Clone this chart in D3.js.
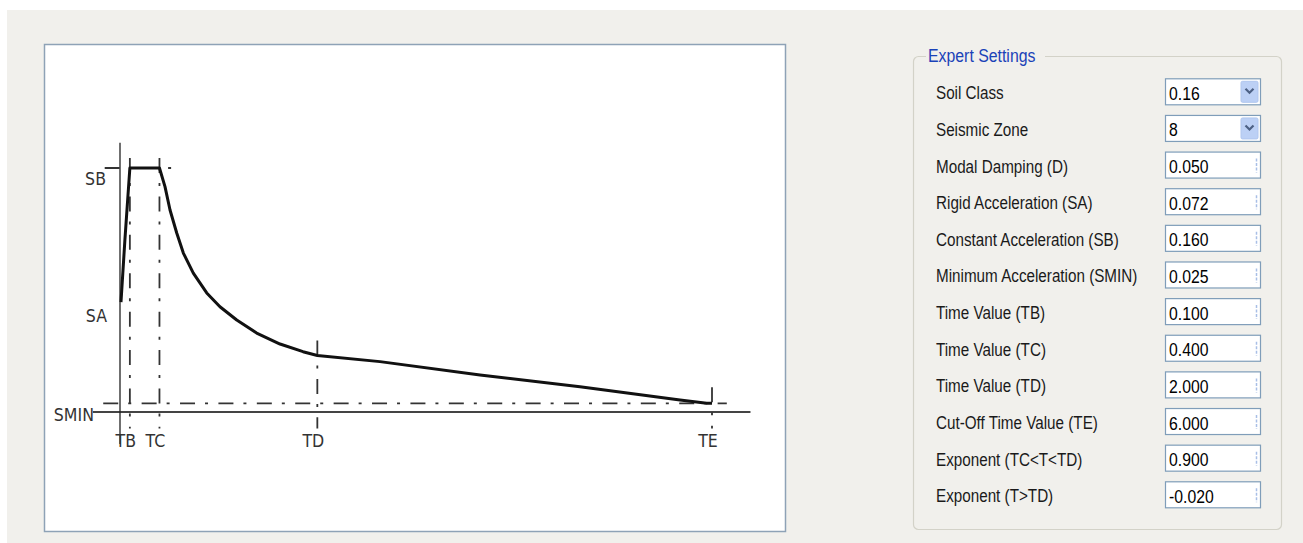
<!doctype html>
<meta charset='utf-8'>
<title>Response spectrum</title>
<style type="text/css">
	html, body {
		margin:0;
		padding:0;
		background:#fff;
		overflow:hidden;
	}
	svg text {
		font-family:'Liberation Sans', Arial, sans-serif;
	}
	.schema text {
		font-family:'DejaVu Sans', sans-serif;
		font-size:16px;
		fill:#333;
	}
</style>

<div id='container'></div>

<script src="https://cdnjs.cloudflare.com/ajax/libs/d3/7.8.5/d3.min.js" charset="utf-8"></script>
<script>

	// spectrum parameters
	var SA = 0.072, SB = 0.160, SMIN = 0.025
	var TB = 0.1, TC = 0.4, TD = 2.0, TE = 6.0

	var periodTicks = [TB, TC, TD, TE]
	var periodLabels = ['TB', 'TC', 'TD', 'TE']

	// curve (period, acceleration)
	var curveT = [0.01, 0.05, 0.1, 0.4, 0.456, 0.507, 0.575, 0.642, 0.743, 0.879, 1.013,
		1.183, 1.385, 1.622, 1.855, 2.0, 2.635, 3.649, 4.662, 5.676, 5.946, 6.0]
	var curveS = [0.083, 0.119, 0.160, 0.160, 0.1493, 0.1359, 0.1227, 0.1112, 0.0997, 0.0883, 0.0804,
		0.0728, 0.0653, 0.0590, 0.0546, 0.0524, 0.0489, 0.0412, 0.0345, 0.0269, 0.0250, 0.0250]

	// expert settings panel
	var settingLabels = ['Soil Class', 'Seismic Zone', 'Modal Damping (D)', 'Rigid Acceleration (SA)',
		'Constant Acceleration (SB)', 'Minimum Acceleration (SMIN)', 'Time Value (TB)', 'Time Value (TC)',
		'Time Value (TD)', 'Cut-Off Time Value (TE)', 'Exponent (TC<T<TD)', 'Exponent (T>TD)']
	var settingValues = ['0.16', '8', '0.050', '0.072', '0.160', '0.025', '0.100', '0.400',
		'2.000', '6.000', '0.900', '-0.020']
	var settingKinds = ['combo', 'combo', 'spin', 'spin', 'spin', 'spin', 'spin', 'spin',
		'spin', 'spin', 'spin', 'spin']

	// -------------------------------------------------------

	var svg = d3.select('#container').append('svg')
		.attr('width', 1303)
		.attr('height', 543)

	// window background
	svg.append('rect')
		.attr('x', 7).attr('y', 10)
		.attr('width', 1296).attr('height', 533)
		.style('fill', '#f1f0ec')

	// chart frame
	svg.append('rect')
		.attr('x', 44.5).attr('y', 44.5)
		.attr('width', 741).attr('height', 487)
		.style('fill', '#fff')
		.style('stroke', '#8ea2b6')
		.style('stroke-width', 1.5)

	var x = d3.scaleLinear().domain([0, 6]).range([120, 712])
	var y = d3.scaleLinear().domain([0.02, 0.16]).range([412, 168])

	var schema = svg.append('g').attr('class', 'schema')
	var dashDot = '15,10,3,10.4'

	function guide(x1, y1, x2, y2) {
		schema.append('line')
			.attr('x1', x1).attr('y1', y1)
			.attr('x2', x2).attr('y2', y2)
			.style('stroke', '#333')
			.style('stroke-width', 1.8)
			.style('stroke-dasharray', dashDot)
	}

	// squeeze text horizontally, like the narrow dialog font
	function narrow(sel, k) {
		sel.each(function() {
			var w = this.getComputedTextLength()
			d3.select(this)
				.attr('textLength', w * k)
				.attr('lengthAdjust', 'spacingAndGlyphs')
		})
	}

	// axes
	schema.append('line')
		.attr('x1', x(-0.275)).attr('x2', x(6.39))
		.attr('y1', y(0.02)).attr('y2', y(0.02))
		.style('stroke', '#444').style('stroke-width', 2)
	schema.append('line')
		.attr('x1', x(0)).attr('x2', x(0))
		.attr('y1', y(0.1745)).attr('y2', y(0.0016))
		.style('stroke', '#222').style('stroke-width', 1.3)

	// level guides
	guide(x(-0.155), y(SB), x(0.53), y(SB))
	guide(x(-0.17), y(SMIN), x(6.15), y(SMIN))

	// period guides
	guide(x(TB), y(0.1657), x(TB), y(0.0105))
	guide(x(TC), y(0.1657), x(TC), y(0.0105))
	guide(x(TD), y(0.061), x(TD), y(0.0105))
	guide(x(TE), y(0.0342), x(TE), y(0.0105))

	// spectrum
	var line = d3.line()
		.x(function(d, i) { return x(curveT[i]) })
		.y(function(d) { return y(d) })
	schema.append('path')
		.attr('d', line(curveS))
		.style('fill', 'none')
		.style('stroke', '#111')
		.style('stroke-width', 3)
		.style('stroke-linejoin', 'round')

	// period labels through a bottom axis
	var tAxis = d3.axisBottom(x)
		.tickValues(periodTicks)
		.tickFormat(function(d, i) { return periodLabels[i] })
		.tickSize(0)
		.tickPadding(0)
	var tAxisG = schema.append('g')
		.attr('transform', 'translate(0,' + (y(0.02) + 22) + ')')
		.call(tAxis)
	tAxisG.select('.domain').remove()
	tAxisG.selectAll('text')
		.attr('dx', -4.5)
		.attr('dy', 12.5)
		.style('font-family', "'DejaVu Sans', sans-serif")
		.style('font-size', '17px')
		.style('fill', '#333')
		.call(narrow, 0.93)

	// level labels
	schema.append('text').attr('x', 106).attr('y', y(SB) + 17)
		.attr('text-anchor', 'end').style('font-size', '17px').text('SB')
	schema.append('text').attr('x', 107).attr('y', y(SA) + 1)
		.attr('text-anchor', 'end').style('font-size', '17px').text('SA')
	schema.append('text').attr('x', 94).attr('y', y(SMIN) + 18)
		.attr('text-anchor', 'end').style('font-size', '17px').text('SMIN')
	schema.selectAll('text').filter(function() { return !this.parentNode.classList.contains('tick') })
		.call(narrow, 0.93)

	// -------------------------------------------------------
	// settings group box

	var panel = svg.append('g')
	panel.append('rect')
		.attr('x', 913.5).attr('y', 56.5)
		.attr('width', 368).attr('height', 473)
		.attr('rx', 5).attr('ry', 5)
		.style('fill', 'none')
		.style('stroke', '#d3d2c8')
		.style('stroke-width', 1.2)
	panel.append('rect')
		.attr('x', 926).attr('y', 50)
		.attr('width', 119).attr('height', 14)
		.style('fill', '#f1f0ec')
	panel.append('text')
		.attr('x', 928).attr('y', 61.5)
		.style('font-size', '18px')
		.style('fill', '#1a42b8')
		.text('Expert Settings')
		.call(narrow, 0.88)

	var rowBase = d3.scaleLinear().domain([0, 11]).range([99.3, 502.3])

	var rows = panel.selectAll('g.row')
		.data(settingLabels)
		.enter().append('g')
		.attr('class', 'row')
		.attr('transform', function(d, i) { return 'translate(0,' + rowBase(i) + ')' })

	rows.append('text')
		.attr('x', 936).attr('y', 0)
		.style('font-size', '17.5px')
		.style('fill', '#1a1a1a')
		.text(function(d) { return d })
		.call(narrow, 0.87)

	rows.append('rect')
		.attr('x', 1165.5).attr('y', -20.5)
		.attr('width', 95).attr('height', 26)
		.style('fill', '#fff')
		.style('stroke', '#7f9db9')
		.style('stroke-width', 1.2)

	rows.append('text')
		.attr('x', 1169).attr('y', 0.5)
		.style('font-size', '17.5px')
		.style('fill', '#000')
		.text(function(d, i) { return settingValues[i] })
		.call(narrow, 0.9)

	// drop-down buttons
	var combos = rows.filter(function(d, i) { return settingKinds[i] === 'combo' })
	combos.append('rect')
		.attr('x', 1241).attr('y', -18)
		.attr('width', 17).attr('height', 21)
		.attr('rx', 1.5)
		.style('fill', '#bcd0f5')
		.style('stroke', '#b0c6ee')
	combos.append('path')
		.attr('d', 'M1245.5,-10.5 L1249.5,-6.5 L1253.5,-10.5')
		.style('fill', 'none')
		.style('stroke', '#4d6185')
		.style('stroke-width', 2.2)

	// collapsed spin buttons
	rows.filter(function(d, i) { return settingKinds[i] === 'spin' })
		.append('line')
		.attr('x1', 1256.5).attr('x2', 1256.5)
		.attr('y1', -14).attr('y2', 0)
		.style('stroke', '#a9bfe6')
		.style('stroke-width', 1.5)
		.style('stroke-dasharray', '3,1.5')

</script>
